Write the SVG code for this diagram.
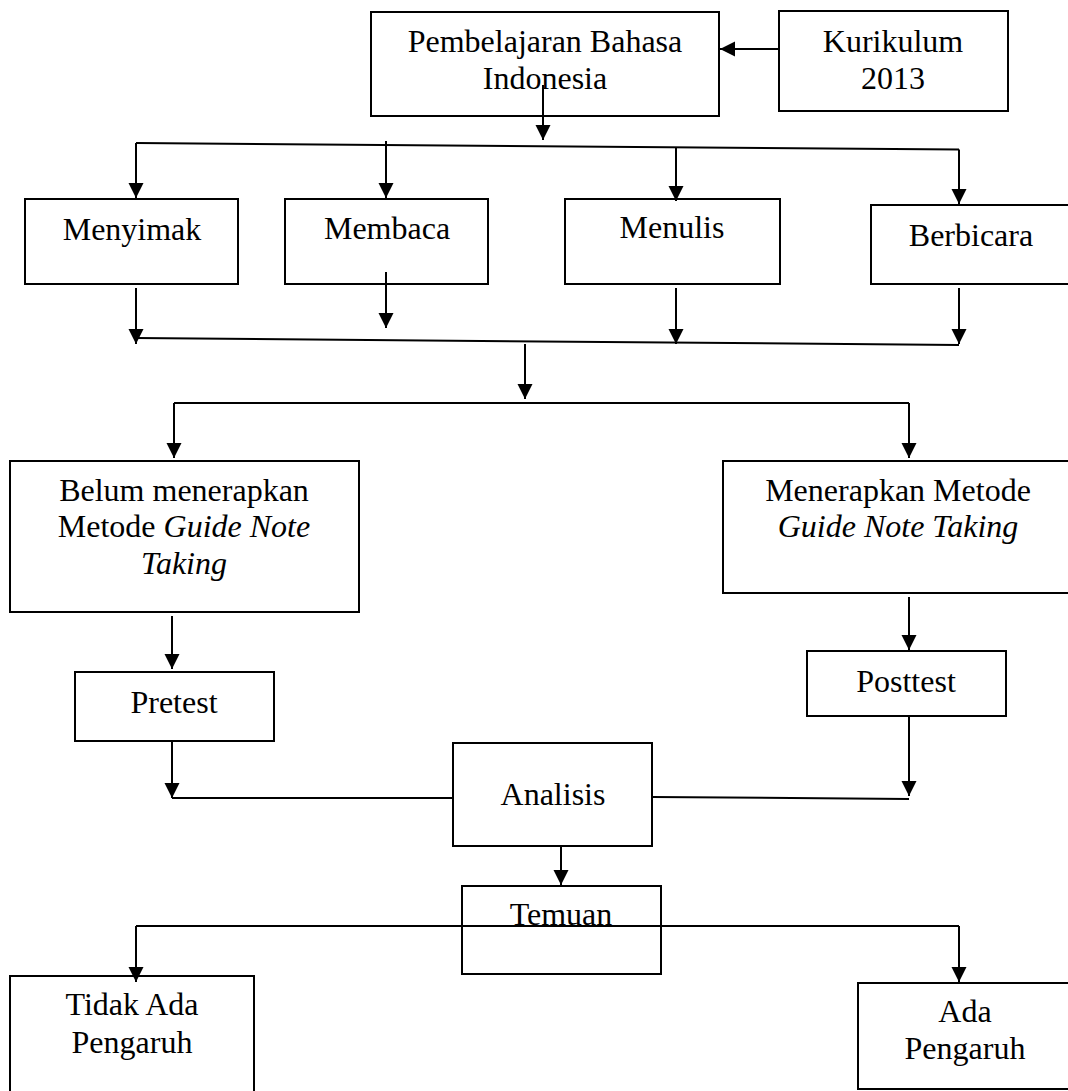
<svg xmlns="http://www.w3.org/2000/svg" width="1068" height="1091" viewBox="0 0 1068 1091">
<style>
.box{fill:#fff;stroke:#000;stroke-width:2}
.t{font-family:"Liberation Serif","Times New Roman",serif;font-size:32px;fill:#000;text-anchor:middle}
.i{font-style:italic}
.c{fill:none;stroke:#000;stroke-width:2}
.a{fill:none;stroke:#000;stroke-width:2;marker-end:url(#arr)}
</style>
<defs>
<marker id="arr" markerUnits="userSpaceOnUse" markerWidth="16" markerHeight="16" refX="15" refY="7.5" orient="auto">
<path d="M0,0 L15,7.5 L0,15 z" fill="#000"/>
</marker>
</defs>
<rect width="1068" height="1091" fill="#fff"/>
<g id="nodes">
<g id="pembelajaran"><rect class="box" x="371" y="12" width="348" height="104"/><text class="t" x="545" y="52">Pembelajaran Bahasa</text><text class="t" x="545" y="89">Indonesia</text></g>
<g id="kurikulum"><rect class="box" x="779" y="11" width="229" height="100"/><text class="t" x="893" y="52">Kurikulum</text><text class="t" x="893" y="89">2013</text></g>
<g id="menyimak"><rect class="box" x="25" y="199" width="213" height="85"/><text class="t" x="132" y="240">Menyimak</text></g>
<g id="membaca"><rect class="box" x="285" y="199" width="203" height="85"/><text class="t" x="387" y="239">Membaca</text></g>
<g id="menulis"><rect class="box" x="565" y="199" width="215" height="85"/><text class="t" x="672" y="238">Menulis</text></g>
<g id="berbicara"><rect class="box" x="871" y="205" width="210" height="79"/><text class="t" x="971" y="246">Berbicara</text></g>
<g id="belum"><rect class="box" x="10" y="461" width="349" height="151"/><text class="t" x="184" y="501">Belum menerapkan</text><text class="t" x="184" y="537">Metode <tspan class="i">Guide Note</tspan></text><text class="t i" x="184" y="574">Taking</text></g>
<g id="menerapkan"><rect class="box" x="723" y="461" width="360" height="132"/><text class="t" x="898" y="501">Menerapkan Metode</text><text class="t i" x="898" y="537">Guide Note Taking</text></g>
<g id="pretest"><rect class="box" x="75" y="672" width="199" height="69"/><text class="t" x="174" y="713">Pretest</text></g>
<g id="posttest"><rect class="box" x="807" y="651" width="199" height="65"/><text class="t" x="906" y="692">Posttest</text></g>
<g id="analisis"><rect class="box" x="453" y="743" width="199" height="103"/><text class="t" x="553" y="805">Analisis</text></g>
<g id="temuan"><rect class="box" x="462" y="886" width="199" height="88"/><text class="t" x="561" y="925">Temuan</text></g>
<g id="tidak-ada"><rect class="box" x="10" y="976" width="244" height="130"/><text class="t" x="132" y="1015">Tidak Ada</text><text class="t" x="132" y="1053">Pengaruh</text></g>
<g id="ada"><rect class="box" x="858" y="983" width="220" height="106"/><text class="t" x="965" y="1022">Ada</text><text class="t" x="965" y="1059">Pengaruh</text></g>
</g>
<g id="connectors">
<line class="a" x1="779" y1="49" x2="720" y2="49"/>
<line class="a" x1="543" y1="85" x2="543" y2="140"/>
<line class="c" x1="136" y1="143" x2="959" y2="149.5"/>
<line class="a" x1="136" y1="143" x2="136" y2="198"/>
<line class="a" x1="386" y1="141" x2="386" y2="198"/>
<line class="a" x1="676" y1="147" x2="676" y2="201"/>
<line class="a" x1="959" y1="149.5" x2="959" y2="204"/>
<line class="a" x1="136" y1="288" x2="136" y2="344"/>
<line class="a" x1="386" y1="272" x2="386" y2="328"/>
<line class="a" x1="676" y1="288" x2="676" y2="344"/>
<line class="a" x1="959" y1="288" x2="959" y2="344"/>
<line class="c" x1="136" y1="338" x2="959" y2="345"/>
<line class="a" x1="525" y1="344" x2="525" y2="399"/>
<line class="c" x1="174" y1="403" x2="909" y2="403"/>
<line class="a" x1="174" y1="403" x2="174" y2="458"/>
<line class="a" x1="909" y1="403" x2="909" y2="458"/>
<line class="a" x1="172" y1="616" x2="172" y2="669"/>
<line class="a" x1="909" y1="597" x2="909" y2="650"/>
<line class="a" x1="172" y1="741" x2="172" y2="798"/>
<line class="c" x1="172" y1="798" x2="453" y2="798"/>
<line class="a" x1="909" y1="716" x2="909" y2="796"/>
<line class="c" x1="652" y1="797" x2="909" y2="799"/>
<line class="a" x1="561" y1="847" x2="561" y2="885"/>
<line class="c" x1="136" y1="926" x2="959" y2="926"/>
<line class="a" x1="136" y1="926" x2="136" y2="982"/>
<line class="a" x1="959" y1="926" x2="959" y2="982"/>
</g>
</svg>
